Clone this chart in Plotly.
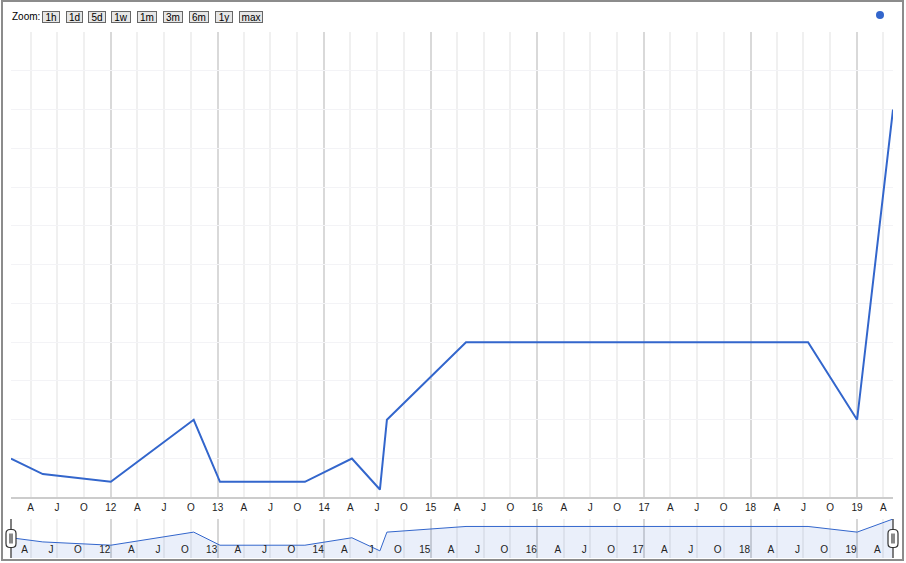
import plotly.graph_objects as go

# ---- data ----
dates = ["2011-01-24", "2011-05-13", "2012-01-01", "2012-10-11", "2013-01-09",
         "2013-10-27", "2014-04-06", "2014-07-11", "2014-08-04", "2015-05-02",
         "2018-07-17", "2019-01-01", "2019-05-04"]
values = [1.0, 0.6, 0.4, 2.0, 0.4, 0.4, 1.0, 0.2, 2.0, 4.0, 4.0, 2.0, 10.0]

year_ticks = [f"{y}-01-01" for y in range(2012, 2020)]
year_labels = [t[2:4] for t in year_ticks]
month_ticks = [f"{y}-{m:02d}-01" for y in range(2011, 2020) for m in (4, 7, 10)
               if f"{y}-{m:02d}-01" <= "2019-04-01"]
month_labels = [{4: "A", 7: "J", 10: "O"}[int(t[5:7])] for t in month_ticks]
zoom_labels = ["1h", "1d", "5d", "1w", "1m", "3m", "6m", "1y", "max"]

# ---- geometry ----
W, H = 906, 563
L, R, T, B = 11, 13, 32, 5
PW, PH = W - L - R, H - T - B


def px(p):
    return (p - L) / PW


def py(p):
    return (H - B - p) / PH


LINE = "#3366cc"
fig = go.Figure()
fig.add_trace(go.Scatter(x=dates, y=values, mode="lines", line=dict(color=LINE, width=2),
                         xaxis="x", yaxis="y", hoverinfo="skip"))
fig.add_trace(go.Scatter(x=dates, y=values, mode="lines", line=dict(color=LINE, width=1),
                         fill="tozeroy", fillcolor="rgba(51,102,204,0.10)",
                         xaxis="x2", yaxis="y2", hoverinfo="skip"))
# invisible carriers so the month-label axes are drawn
fig.add_trace(go.Scatter(x=dates, y=values, mode="lines", opacity=0, line=dict(width=0),
                         xaxis="x3", yaxis="y", hoverinfo="skip"))
fig.add_trace(go.Scatter(x=dates, y=values, mode="lines", opacity=0, line=dict(width=0),
                         xaxis="x4", yaxis="y2", hoverinfo="skip"))

xr = [dates[0], dates[-1]]
tickfont = dict(family="Arial", size=10, color="#222")
minor = dict(dtick="M3", tick0="2011-01-01", showgrid=True, gridcolor="#f0f0f0", gridwidth=2, ticks="")
fig.update_layout(
    width=W, height=H, margin=dict(l=L, r=R, t=T, b=B),
    paper_bgcolor="white", plot_bgcolor="white", showlegend=False,
    xaxis=dict(type="date", range=xr, domain=[0, 1], anchor="y",
               tickmode="array", tickvals=year_ticks, ticktext=year_labels,
               showgrid=True, gridcolor="#d9d9d9", gridwidth=2, ticks="", minor=minor,
               showline=True, linecolor="#cccccc", linewidth=2,
               tickfont=tickfont, zeroline=False),
    xaxis3=dict(type="date", range=xr, overlaying="x", anchor="y", side="bottom",
                tickmode="array", tickvals=month_ticks, ticktext=month_labels,
                showgrid=False, ticks="", tickfont=tickfont, zeroline=False,
                showline=True, linecolor="#cccccc", linewidth=2),
    yaxis=dict(range=[0, 12], dtick=1, domain=[py(497.3), 1], anchor="x",
               showticklabels=False, showgrid=True, gridcolor="#f3f3f6", zeroline=False),
    xaxis2=dict(type="date", range=xr, domain=[0, 1], anchor="y2",
                tickmode="array", tickvals=year_ticks, ticktext=year_labels,
                showgrid=True, gridcolor="#d6d6d6", gridwidth=2, ticks="", minor=minor,
                ticklabelposition="inside", ticklabelshift=-6, ticklabelstandoff=0,
                tickfont=tickfont, zeroline=False, showline=False),
    xaxis4=dict(type="date", range=xr, overlaying="x2", anchor="y2", side="bottom",
                tickmode="array", tickvals=month_ticks, ticktext=month_labels,
                showgrid=False, ticks="", ticklabelposition="inside", ticklabelshift=-6,
                ticklabelstandoff=0, tickfont=tickfont, zeroline=False, showline=False),
    yaxis2=dict(type="log", range=[-1.08, 1.0], domain=[0, py(519)], anchor="x2",
                showticklabels=False, showgrid=False, zeroline=False),
)

shapes = []
# navigator handles (at both ends of the navigator)
for xa in (0, 1):
    shapes.append(dict(type="line", xref="paper", yref="y2 domain", x0=xa, x1=xa, y0=0, y1=1,
                       line=dict(color="#555", width=1.5)))
    shapes.append(dict(type="path", xref="paper", yref="y2 domain", xsizemode="pixel",
                       ysizemode="pixel", xanchor=xa, yanchor=0.5,
                       path="M -5,-5 Q -5,-9 -1,-9 L 1,-9 Q 5,-9 5,-5 L 5,5 Q 5,9 1,9 L -1,9 Q -5,9 -5,5 Z",
                       fillcolor="white", line=dict(color="#333", width=1.2)))
    shapes.append(dict(type="rect", xref="paper", yref="y2 domain", xsizemode="pixel",
                       ysizemode="pixel", xanchor=xa, yanchor=0.5, x0=-2, x1=2, y0=-5, y1=5,
                       fillcolor="#888", line=dict(width=0)))

# legend dot
shapes.append(dict(type="circle", xref="paper", yref="paper", xsizemode="pixel", ysizemode="pixel",
                   xanchor=px(880), yanchor=py(15), x0=-4, x1=4, y0=-4, y1=4,
                   fillcolor=LINE, line=dict(width=0)))
# outer border
shapes.append(dict(type="rect", xref="paper", yref="paper", x0=px(2), x1=px(903), y0=py(560), y1=py(1),
                   line=dict(color="#8c8c8c", width=2)))
fig.update_layout(shapes=shapes)

ann = [dict(text="Zoom:", xref="paper", yref="paper", x=px(10), y=py(16.5), xanchor="left",
            yanchor="middle", showarrow=False, font=dict(family="Arial", size=10, color="#000"))]
btn_centers = [51, 74.5, 97, 121, 147, 173, 199, 224, 251]
btn_widths = [18, 17, 18, 20, 20, 20, 20, 18, 24]
for lab, c, w in zip(zoom_labels, btn_centers, btn_widths):
    ann.append(dict(text=lab, xref="paper", yref="paper", x=px(c), y=py(16.5), xanchor="center",
                    yanchor="middle", showarrow=False, width=w - 2, height=10, borderpad=0,
                    bordercolor="#666", borderwidth=1, bgcolor="#e6e6e6",
                    font=dict(family="Arial", size=10, color="#000")))
fig.update_layout(annotations=ann)

fig.write_html("out.html", config={"displayModeBar": False},
               post_script="document.body.style.margin='0px';")
